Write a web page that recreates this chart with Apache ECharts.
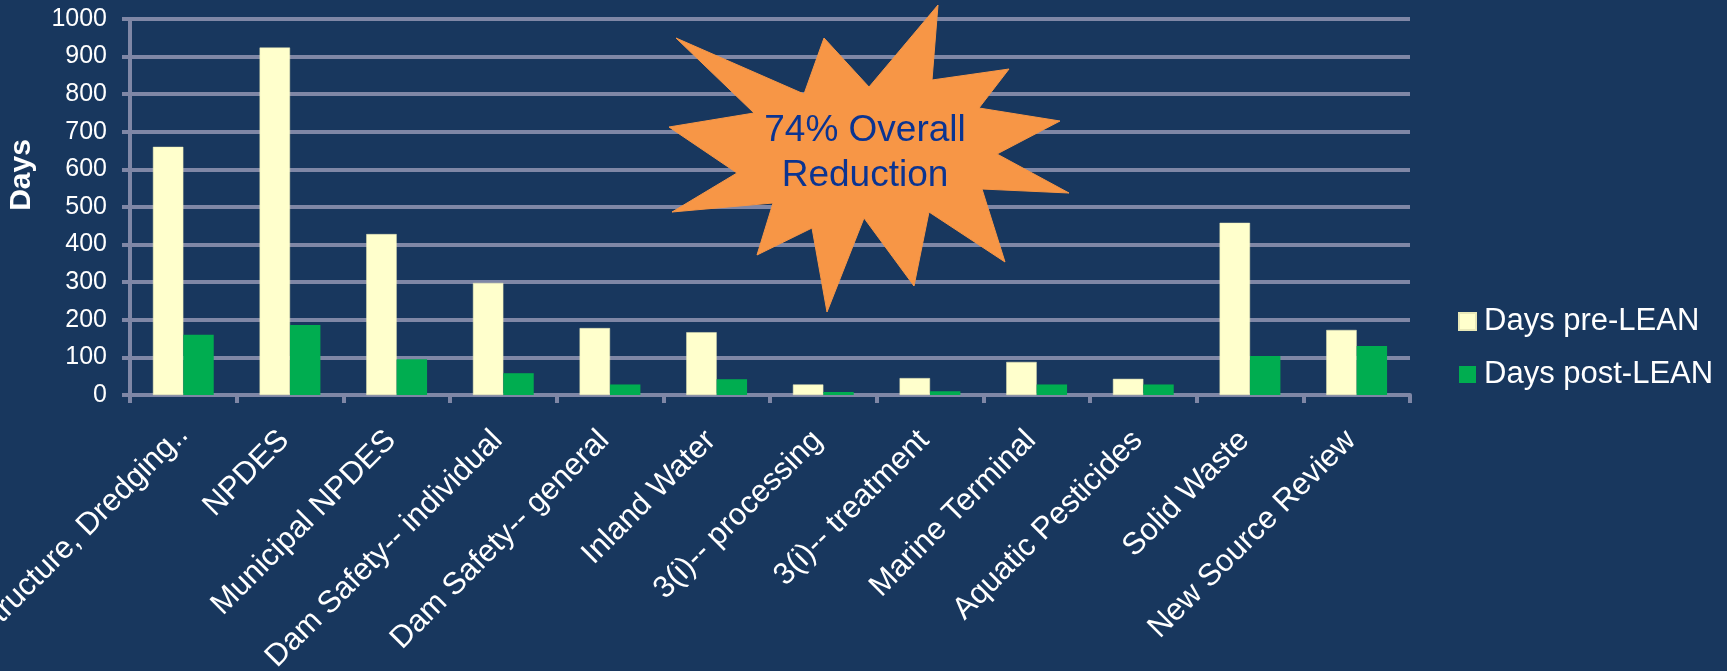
<!DOCTYPE html>
<html>
<head>
<meta charset="utf-8">
<script src="https://cdn.jsdelivr.net/npm/echarts@6/dist/echarts.min.js"></script>
<style>
html,body{margin:0;padding:0;background:#18375e;}
#chart{width:1727px;height:671px;}
</style>
</head>
<body>
<div id="chart"></div>
<script>
var categories = ['Structure, Dredging..', 'NPDES', 'Municipal NPDES', 'Dam Safety-- individual', 'Dam Safety-- general', 'Inland Water', '3(i)-- processing', '3(i)-- treatment', 'Marine Terminal', 'Aquatic Pesticides', 'Solid Waste', 'New Source Review'];
var preLean = [660, 924, 428, 298, 178, 167, 28, 45, 88, 43, 458, 173];
var postLean = [160, 186, 95, 58, 28, 42, 8, 10, 28, 28, 104, 130];
var seriesNames = ['Days pre-LEAN', 'Days post-LEAN'];
var yTicks = {min: 0, max: 1000, interval: 100};
var calloutText = '74% Overall\nReduction';
var starPoints = [[676,38],[804,94],[824,38],[869,87],[938,5],[932,80],[1009,69],[979,108],[1060,121],[997,154],[1069,193],[982,189],[1005,262],[929,212],[914,286],[864,218],[827,312],[812,228],[757,255],[773,203],[672,212],[737,173],[669,127],[754,113]];

var FONT = 'Liberation Sans, Arial, sans-serif';
var gridColor = '#7f87a6';
var categoryItems = categories.map(function (c, i) {
  return i === 0 ? {value: c, textStyle: {padding: [0, 0, 0, 0]}} : c;
});
var chart = echarts.init(document.getElementById('chart'));
chart.setOption({
  backgroundColor: '#18375e',
  animation: false,
  textStyle: {fontFamily: FONT},
  grid: {left: 130, right: 317, top: 19, bottom: 276, containLabel: false, outerBoundsMode: 'none'},
  legend: {
    orient: 'vertical',
    left: 1453,
    top: 301,
    itemWidth: 17,
    itemHeight: 17,
    itemGap: 22,
    icon: 'rect',
    textStyle: {color: '#ffffff', fontSize: 31, fontFamily: FONT, lineHeight: 30, padding: [0, 0, 0, 3]},
    data: seriesNames
  },
  xAxis: {
    type: 'category',
    data: categoryItems,
    axisLine: {show: true, lineStyle: {color: gridColor, width: 4}},
    axisTick: {show: true, alignWithLabel: false, length: 8, lineStyle: {color: gridColor, width: 4}},
    axisLabel: {color: '#ffffff', fontSize: 31, rotate: 45, interval: 0, margin: 35, padding: [0, 8, 0, 0], fontFamily: FONT},
    splitLine: {show: false}
  },
  yAxis: {
    type: 'value',
    min: yTicks.min,
    max: yTicks.max,
    interval: yTicks.interval,
    name: 'Days',
    nameLocation: 'middle',
    nameRotate: 90,
    nameGap: 93,
    nameTextStyle: {color: '#ffffff', fontSize: 30, fontWeight: 'bold', fontFamily: FONT, padding: [0, 0, 0, 64]},
    axisLine: {show: true, lineStyle: {color: gridColor, width: 4}},
    axisTick: {show: true, length: 8, lineStyle: {color: gridColor, width: 4}},
    axisLabel: {color: '#ffffff', fontSize: 25, margin: 23, fontFamily: FONT, formatter: function (v) { return String(v); }},
    splitLine: {show: true, lineStyle: {color: gridColor, width: 4}}
  },
  series: [
    {
      name: seriesNames[0],
      type: 'bar',
      data: preLean,
      barGap: '0%',
      barCategoryGap: '43%',
      itemStyle: {color: '#ffffcc', borderColor: '#e8e8b8', borderWidth: 0.5}
    },
    {
      name: seriesNames[1],
      type: 'bar',
      data: postLean,
      barGap: '0%',
      barCategoryGap: '43%',
      itemStyle: {color: '#00ad50'}
    }
  ],
  graphic: [
    {
      type: 'polygon',
      z: 100,
      shape: {points: starPoints},
      style: {fill: '#f79646', stroke: '#f79646', lineWidth: 1}
    },
    {
      type: 'text',
      z: 101,
      x: 865,
      y: 153,
      style: {
        text: calloutText,
        fill: '#0b3491',
        font: '37px ' + FONT,
        lineHeight: 45,
        align: 'center',
        verticalAlign: 'middle'
      }
    }
  ]
});
</script>
</body>
</html>
